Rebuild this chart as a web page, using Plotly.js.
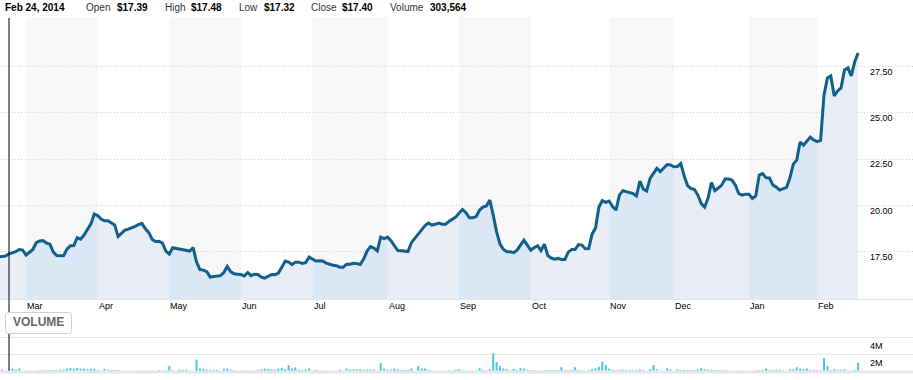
<!DOCTYPE html>
<html><head><meta charset="utf-8">
<script src="https://cdn.plot.ly/plotly-3.0.1.min.js"></script>
<style>html,body{margin:0;padding:0;background:#fff}#chart{width:913px;height:380px}</style>
</head><body><div id="chart"></div>
<script>
// ---- data ----
const startDate = '2014-02-19';
const holidays = ['2014-04-18','2014-05-26','2014-07-04','2014-09-01','2014-11-27','2014-12-25','2015-01-01','2015-01-19','2015-02-16'];
const close = [
17.23,17.26,17.28,17.40,17.44,17.52,17.63,17.60,
17.33,17.49,17.63,18.00,18.09,18.11,17.98,17.92,17.49,17.30,17.28,17.29,17.65,17.83,17.84,18.27,18.19,18.41,18.71,19.00,19.54,
19.46,19.27,19.18,19.18,19.08,18.95,18.33,18.50,18.68,18.73,18.79,18.88,18.98,19.03,18.75,18.54,18.17,18.06,18.07,17.98,17.55,
17.38,17.73,17.69,17.67,17.64,17.57,17.55,17.73,16.95,16.55,16.52,16.43,16.14,16.17,16.21,16.22,16.39,16.72,16.44,16.32,16.30,
16.28,16.20,16.39,16.22,16.30,16.28,16.14,16.09,16.20,16.28,16.27,16.36,16.68,17.01,16.95,16.82,16.95,16.95,16.88,16.92,17.22,
17.11,17.01,17.02,17.01,16.90,16.82,16.78,16.76,16.68,16.68,16.84,16.84,16.89,16.87,16.82,17.11,17.55,17.79,17.71,17.56,18.30,18.22,
18.30,18.11,17.87,17.57,17.56,17.55,17.52,18.00,18.22,18.44,18.68,18.92,19.06,18.95,18.99,19.06,19.00,19.00,19.14,19.27,19.38,
19.60,19.79,19.62,19.34,19.34,19.41,19.76,19.92,19.98,20.30,19.49,18.57,17.92,17.63,17.51,17.51,17.46,17.60,17.87,18.14,17.87,
17.60,17.73,17.84,17.57,17.92,17.30,17.17,17.11,17.15,17.09,17.09,17.49,17.63,17.63,17.90,17.87,17.67,17.68,18.46,18.79,19.92,20.27,20.18,
20.25,19.95,19.76,20.57,20.81,20.76,20.68,20.65,20.52,21.33,20.89,20.79,21.47,21.76,22.01,21.84,22.03,22.22,22.20,
22.10,22.11,22.27,21.60,21.08,20.92,20.87,20.57,20.11,19.91,20.41,21.25,20.81,20.95,21.11,21.43,21.43,21.38,21.11,20.65,20.57,20.62,
20.62,20.39,20.52,21.65,21.73,21.51,21.49,21.11,21.00,20.84,20.89,20.98,21.49,22.24,22.46,23.43,23.27,23.49,23.70,23.54,
23.45,23.52,25.97,26.89,27.00,25.92,26.19,26.35,27.32,27.43,27.00,27.75,28.24
];
const volumeM = [
0.35,0.27,0.15,0.30,0.39,0.27,0.39,0.10,
0.15,0.05,0.05,0.05,0.20,0.20,0.18,0.20,0.22,0.20,0.27,0.27,0.39,0.47,0.39,0.47,0.39,0.39,0.31,0.35,0.35,
0.24,0.05,0.35,0.24,0.24,0.24,0.24,0.05,0.05,0.05,0.05,0.05,0.05,0.15,0.15,0.05,0.15,0.05,0.20,0.05,0.20,
0.70,0.20,0.05,0.27,0.24,0.27,0.15,0.05,1.41,0.39,0.35,0.26,0.24,0.26,0.24,0.05,0.39,0.39,0.27,0.20,0.05,
0.15,0.15,0.05,0.15,0.05,0.24,0.31,0.39,0.35,0.31,0.24,0.39,0.47,0.35,0.79,0.39,0.55,0.27,0.24,0.29,0.39,
0.05,0.24,0.05,0.05,0.15,0.05,0.05,0.15,0.27,0.05,0.39,0.31,0.31,0.31,0.31,0.24,0.27,0.27,0.27,0.05,1.02,0.39,
0.27,0.27,0.39,0.31,0.24,0.24,0.24,0.39,0.05,0.67,0.39,0.39,0.24,0.05,0.05,0.05,0.05,0.05,0.15,0.05,0.27,
0.31,0.15,0.05,0.05,0.05,0.15,0.43,0.24,0.15,0.31,2.15,1.14,0.67,0.39,0.31,0.15,0.35,0.24,0.43,0.39,0.24,
0.20,0.20,0.15,0.05,0.20,0.20,0.20,0.24,0.20,0.55,0.24,0.20,0.24,0.55,0.24,0.15,0.05,0.24,0.35,0.43,0.59,1.18,0.79,
0.39,0.24,0.20,0.24,0.27,0.24,0.20,0.20,0.24,0.31,0.24,0.05,0.31,0.79,0.31,0.15,0.05,0.43,0.27,
0.05,0.31,0.24,0.24,0.24,0.24,0.24,0.27,0.43,0.31,0.24,0.24,0.20,0.20,0.20,0.20,0.05,0.05,0.05,0.15,0.05,0.05,
0.05,0.05,0.15,0.20,0.24,0.39,0.20,0.20,0.27,0.27,0.20,0.05,0.31,0.31,0.55,0.39,0.31,0.39,0.24,0.20,
0.20,0.20,1.61,0.67,0.20,0.31,0.24,0.24,0.31,0.15,0.05,0.24,1.06
];
const monthLabels = ['Mar','Apr','May','Jun','Jul','Aug','Sep','Oct','Nov','Dec','Jan','Feb'];
const priceTicks = [17.5, 20, 22.5, 25, 27.5];
const priceTickText = ['17.50','20.00','22.50','25.00','27.50'];
const volTicks = [2, 4];
const volTickText = ['2M','4M'];
const headerDate = 'Feb 24, 2014';
const headerLabels = ['Open','High','Low','Close','Volume'];
const headerValues = ['$17.39','$17.48','$17.32','$17.40','303,564'];
const cursorDate = '2014-02-24';

// ---- trading-day calendar ----
function fmt(d){return d.toISOString().slice(0,10);}
const dates = [];
{
  const d = new Date(startDate + 'T00:00:00Z');
  while (dates.length < close.length) {
    const s = fmt(d), wd = d.getUTCDay();
    if (wd !== 0 && wd !== 6 && holidays.indexOf(s) < 0) dates.push(s);
    d.setUTCDate(d.getUTCDate() + 1);
  }
}
const monthStarts = [];
for (let i = 1; i < dates.length; i++) {
  if (dates[i].slice(5,7) !== dates[i-1].slice(5,7)) monthStarts.push(i);
}

// ---- geometry helpers (pixels -> paper) ----
const W = 913, TOP = 17, BOT = 372, H = BOT - TOP;
const PY = px => (BOT - px) / H;
const PX = px => px / W;
const FONT = 'Liberation Sans, Arial, sans-serif';

const LINE = '#11608b', FILL = '#e9eef6', BANDFILL = '#dbe7f5', BANDGRAY = '#f7f7f7';

const traces = [];
traces.push({x: dates, y: close, type: 'scatter', mode: 'none', fill: 'tozeroy', fillcolor: FILL, hoverinfo: 'skip'});
const shapes = [];
for (let j = 0; j < monthStarts.length; j += 2) {
  const a = monthStarts[j];
  const b = (j + 1 < monthStarts.length) ? monthStarts[j+1] : dates.length - 1;
  shapes.push({type: 'rect', xref: 'x', yref: 'paper', x0: dates[a], x1: dates[b], y0: PY(299), y1: 1,
    fillcolor: BANDGRAY, line: {width: 0}, layer: 'below'});
  traces.push({x: dates.slice(a, b + 1), y: close.slice(a, b + 1), type: 'scatter', mode: 'none',
    fill: 'tozeroy', fillcolor: BANDFILL, hoverinfo: 'skip'});
}
traces.push({x: dates, y: close, type: 'scatter', mode: 'lines', line: {color: LINE, width: 3}});
traces.push({x: dates, y: volumeM, type: 'bar', yaxis: 'y2', marker: {color: '#4fc6e0', line: {width: 0}}});

// cursor line
shapes.push({type: 'line', xref: 'x', yref: 'paper', x0: cursorDate, x1: cursorDate, y0: PY(371), y1: PY(18),
  line: {color: '#000', width: 1}, layer: 'above'});
// volume bottom bar
shapes.push({type: 'rect', xref: 'paper', yref: 'paper', x0: 0, x1: 1, y0: PY(373.5), y1: PY(370.5),
  fillcolor: '#e6e6e6', line: {width: 0}, layer: 'above'});
// VOLUME rounded box
(function(){
  const x0 = 5.5, x1 = 71.5, y0 = 312.5, y1 = 333.5, r = 3;
  const p = (x, y) => PX(x) + ',' + PY(y);
  const path = 'M' + p(x0+r,y0) + ' L' + p(x1-r,y0) + ' Q' + p(x1,y0) + ' ' + p(x1,y0+r) +
    ' L' + p(x1,y1-r) + ' Q' + p(x1,y1) + ' ' + p(x1-r,y1) + ' L' + p(x0+r,y1) +
    ' Q' + p(x0,y1) + ' ' + p(x0,y1-r) + ' L' + p(x0,y0+r) + ' Q' + p(x0,y0) + ' ' + p(x0+r,y0) + ' Z';
  shapes.push({type: 'path', xref: 'paper', yref: 'paper', path: path, fillcolor: '#fff',
    line: {color: '#d2d2d2', width: 1}, layer: 'above'});
})();

const ann = [];
const base = {showarrow: false, font: {family: FONT, size: 9, color: '#000'}};
// month labels
monthStarts.forEach((i, j) => {
  ann.push(Object.assign({}, base, {text: monthLabels[j], xref: 'x', yref: 'paper', x: dates[i], xanchor: 'left',
    xshift: -1, y: PY(306), yanchor: 'middle'}));
});
// price labels
priceTicks.forEach((v, j) => {
  ann.push(Object.assign({}, base, {text: priceTickText[j], xref: 'paper', yref: 'y', x: PX(868), xanchor: 'left',
    y: v, yanchor: 'middle', yshift: -5}));
});
volTicks.forEach((v, j) => {
  ann.push(Object.assign({}, base, {text: volTickText[j], xref: 'paper', yref: 'y2', x: PX(868), xanchor: 'left',
    y: v, yanchor: 'middle', yshift: -8.5}));
});
// header
const hy = PY(7.5);
ann.push({showarrow: false, text: '<b>' + headerDate + '</b>', xref: 'paper', yref: 'paper', x: PX(3), xanchor: 'left',
  y: hy, yanchor: 'middle', font: {family: FONT, size: 10, color: '#000'}});
const hlx = [84, 163, 237, 309, 388], hvx = [115, 189, 262, 340, 428];
headerLabels.forEach((t, j) => {
  ann.push({showarrow: false, text: t, xref: 'paper', yref: 'paper', x: PX(hlx[j]), xanchor: 'left', y: hy, yanchor: 'middle',
    font: {family: FONT, size: 10, color: '#333'}});
  ann.push({showarrow: false, text: '<b>' + headerValues[j] + '</b>', xref: 'paper', yref: 'paper', x: PX(hvx[j]), xanchor: 'left',
    y: hy, yanchor: 'middle', font: {family: FONT, size: 10, color: '#000'}});
});
ann.push({showarrow: false, text: '<b>VOLUME</b>', xref: 'paper', yref: 'paper', x: PX(38.5), xanchor: 'center',
  y: PY(322), yanchor: 'middle', font: {family: FONT, size: 12, color: '#666'}});

const layout = {
  width: 913, height: 380,
  margin: {l: 0, r: 0, t: TOP, b: 380 - BOT, pad: 0},
  paper_bgcolor: '#fff', plot_bgcolor: 'rgba(0,0,0,0)',
  showlegend: false, bargap: 0.4,
  xaxis: {type: 'date', range: ['2014-02-19 08:38', '2015-03-13 02:24'],
    rangebreaks: [{bounds: ['sat', 'mon']}, {values: holidays}],
    showticklabels: false, showgrid: false, zeroline: false, ticks: '',
    showline: true, linecolor: '#e4e4e4', linewidth: 1, anchor: 'y'},
  yaxis: {domain: [PY(299), 1], range: [14.96, 30.18], tickvals: priceTicks, showticklabels: false,
    gridcolor: '#cfcfcf', griddash: '1px,2px', gridwidth: 1, zeroline: false, ticks: ''},
  yaxis2: {domain: [0, PY(330)], range: [0, 4.8], tickvals: volTicks, showticklabels: false,
    gridcolor: '#e6e6e6', gridwidth: 1, zeroline: false, ticks: '', anchor: 'x'},
  shapes: shapes,
  annotations: ann
};
Plotly.newPlot('chart', traces, layout, {displayModeBar: false, staticPlot: true});
</script>
</body></html>
